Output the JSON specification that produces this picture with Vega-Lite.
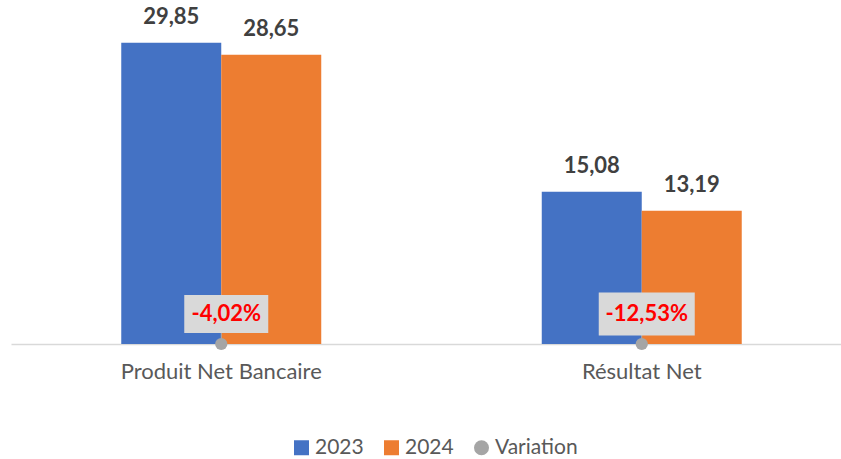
{
  "$schema": "https://vega.github.io/schema/vega-lite/v6.json",
  "width": 830,
  "height": 344,
  "autosize": {"type": "none"},
  "padding": {"left": 11, "top": 0, "right": 0, "bottom": 115},
  "background": "white",
  "data": {
    "values": [
      {"cat": "Produit Net Bancaire", "series": "2023", "value": 29.85},
      {"cat": "Produit Net Bancaire", "series": "2024", "value": 28.65},
      {"cat": "Résultat Net", "series": "2023", "value": 15.08},
      {"cat": "Résultat Net", "series": "2024", "value": 13.19},
      {"cat": "Produit Net Bancaire", "series": "Variation", "value": -0.0402},
      {"cat": "Résultat Net", "series": "Variation", "value": -0.1253}
    ]
  },
  "encoding": {
    "x": {
      "field": "cat", "type": "nominal", "sort": ["Produit Net Bancaire", "Résultat Net"],
      "scale": {"range": [0, 841], "paddingInner": 0.0488, "paddingOuter": 0.0244},
      "axis": {"title": null, "labelAngle": 0, "ticks": false, "domainColor": "#D9D9D9", "domainWidth": 1.5, "labelFontSize": 22, "labelColor": "#595959", "labelPadding": 17, "labelLimit": 500}
    }
  },
  "layer": [
    {
      "transform": [{"filter": "datum.series != 'Variation'"}],
      "mark": {"type": "bar"},
      "encoding": {
        "xOffset": {"field": "series", "type": "nominal", "scale": {"domain": ["2023", "2024"], "paddingInner": 0, "paddingOuter": 1}},
        "y": {"field": "value", "type": "quantitative", "scale": {"domain": [0, 34.08], "nice": false}, "axis": null},
        "color": {"field": "series", "type": "nominal", "scale": {"domain": ["2023", "2024", "Variation"], "range": ["#4472C4", "#ED7D31", "#A5A5A5"]}, "legend": {"title": null}}
      }
    },
    {
      "transform": [{"filter": "datum.series != 'Variation'"}],
      "mark": {"type": "text", "fontWeight": "bold", "fontSize": 22, "color": "#404040", "baseline": "alphabetic", "dy": -19},
      "encoding": {
        "xOffset": {"field": "series", "type": "nominal", "scale": {"domain": ["2023", "2024"], "paddingInner": 0, "paddingOuter": 1}},
        "y": {"field": "value", "type": "quantitative"},
        "text": {"field": "value", "type": "quantitative", "format": ".2f"}
      }
    },
    {
      "transform": [{"filter": "datum.series == 'Variation'"}],
      "mark": {"type": "rule", "color": "#A5A5A5", "strokeWidth": 1, "yOffset": -6, "y2Offset": -12},
      "encoding": {
        "y": {"datum": 0, "type": "quantitative"},
        "y2": {"datum": 0}
      }
    },
    {
      "transform": [{"filter": "datum.series == 'Variation'"}],
      "mark": {"type": "point", "filled": true, "opacity": 1, "size": 150},
      "encoding": {
        "y": {"datum": 0, "type": "quantitative"},
        "color": {"field": "series", "type": "nominal", "legend": {"title": null}},
        "shape": {"field": "series", "type": "nominal", "scale": {"domain": ["2023", "2024", "Variation"], "range": ["square", "square", "circle"]}, "legend": {"title": null}}
      }
    },
    {
      "transform": [{"filter": "datum.series == 'Variation'"}],
      "mark": {"type": "point", "filled": true, "opacity": 1, "color": "#D9D9D9", "shape": "M-1,-0.45L1,-0.45L1,0.45L-1,0.45Z", "yOffset": -30, "xOffset": 5},
      "encoding": {
        "y": {"datum": 0, "type": "quantitative"},
        "size": {"condition": {"test": "datum.cat == 'Résultat Net'", "value": 9216}, "value": 7056}
      }
    },
    {
      "transform": [{"filter": "datum.series == 'Variation'"}],
      "mark": {"type": "text", "fontWeight": "bold", "fontSize": 22, "color": "#FF0000", "baseline": "middle", "dy": -30, "dx": 5},
      "encoding": {
        "y": {"datum": 0, "type": "quantitative"},
        "text": {"field": "value", "type": "quantitative", "format": ".2%"}
      }
    }
  ],
  "config": {
    "view": {"stroke": null},
    "font": "Lato",
    "locale": {"number": {"decimal": ",", "thousands": " ", "grouping": [3], "currency": ["", " €"], "minus": "-"}},
    "legend": {"orient": "none", "legendX": 280, "legendY": 437, "direction": "horizontal", "symbolSize": 225, "labelFontSize": 21, "labelColor": "#595959", "columnPadding": 17, "symbolStrokeWidth": 0, "labelOffset": 3}
  }
}
